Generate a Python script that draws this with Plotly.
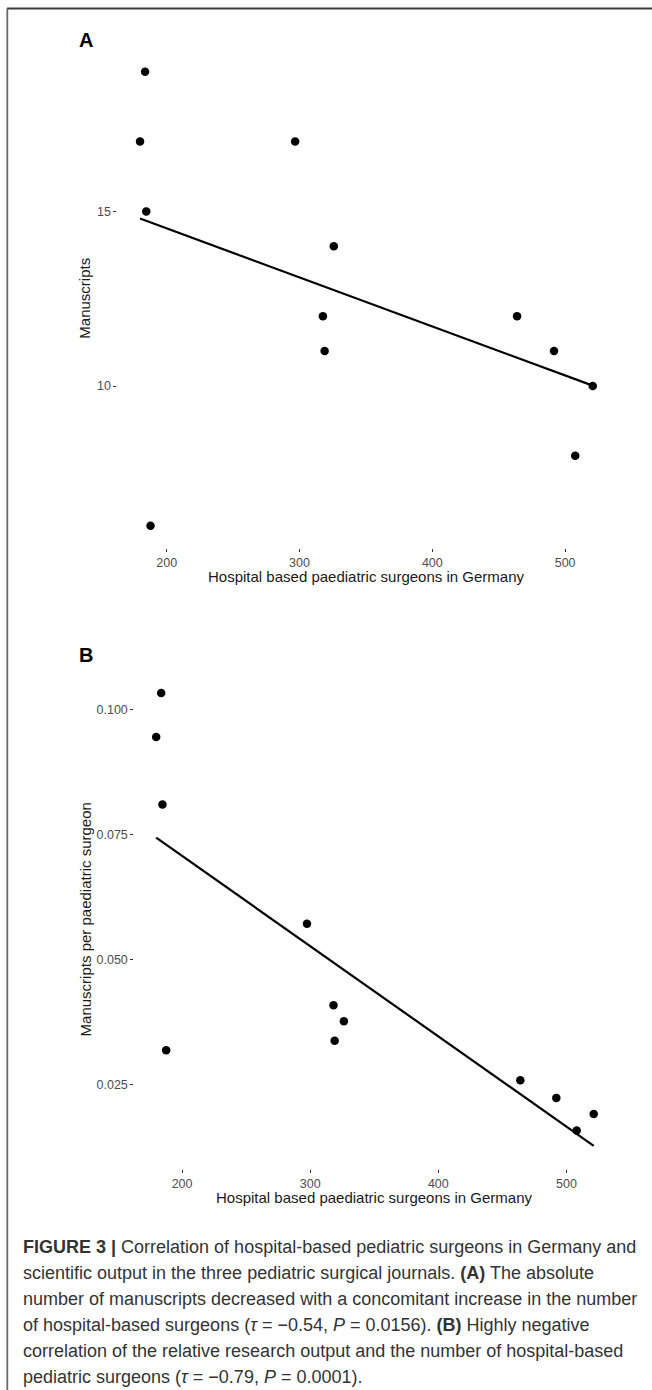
import numpy as np
import plotly.graph_objects as go

# ---------------- data ----------------
surgeons_a = [183.7, 179.9, 296.7, 184.6, 325.8, 317.6, 318.9, 463.8, 491.6, 520.8, 507.6, 187.8]
manuscripts_a = [19, 17, 17, 15, 14, 12, 11, 12, 11, 10, 8, 6]

surgeons_b = [183.7, 179.8, 184.7, 297.5, 318.2, 326.3, 319.1, 187.6, 464.0, 492.1, 521.3, 508.0]
per_surgeon_b = [0.1033, 0.0945, 0.0810, 0.0572, 0.0409, 0.0377, 0.0338, 0.0319,
                 0.0259, 0.0224, 0.0192, 0.0159]

x_ticks = [200, 300, 400, 500]
y_ticks_a = [10, 15]
y_ticks_b = [0.025, 0.050, 0.075, 0.100]

x_title = "Hospital based paediatric surgeons in Germany"
y_title_a = "Manuscripts"
y_title_b = "Manuscripts per paediatric surgeon"

caption_lines = [
    "<b>FIGURE 3 |</b> Correlation of hospital-based pediatric surgeons in Germany and",
    "scientific output in the three pediatric surgical journals. <b>(A)</b> The absolute",
    "number of manuscripts decreased with a concomitant increase in the number",
    "of hospital-based surgeons (<i>τ</i> = −0.54, <i>P</i> = 0.0156). <b>(B)</b> Highly negative",
    "correlation of the relative research output and the number of hospital-based",
    "pediatric surgeons (<i>τ</i> = −0.79, <i>P</i> = 0.0001).",
]

# ---------------- layout helpers ----------------
W, H = 652, 1390


def px(x):
    return x / W


def py(y):
    return 1 - y / H


def lm_line(x, y):
    x = np.asarray(x, float)
    y = np.asarray(y, float)
    k, b = np.polyfit(x, y, 1)
    xs = np.array([x.min(), x.max()])
    return xs, k * xs + b


def expand(vals, f=0.05):
    lo, hi = float(np.min(vals)), float(np.max(vals))
    d = (hi - lo) * f
    return [lo - d, hi + d]


fit_xa, fit_ya = lm_line(surgeons_a, manuscripts_a)
fit_xb, fit_yb = lm_line(surgeons_b, per_surgeon_b)

fig = go.Figure()

marker = dict(color="black", size=8.5)
fig.add_trace(go.Scatter(x=surgeons_a, y=manuscripts_a, mode="markers", marker=marker,
                         xaxis="x", yaxis="y", hoverinfo="x+y"))
fig.add_trace(go.Scatter(x=fit_xa, y=fit_ya, mode="lines", line=dict(color="black", width=2.2),
                         xaxis="x", yaxis="y"))
fig.add_trace(go.Scatter(x=surgeons_b, y=per_surgeon_b, mode="markers", marker=marker,
                         xaxis="x2", yaxis="y2", hoverinfo="x+y"))
fig.add_trace(go.Scatter(x=fit_xb, y=fit_yb, mode="lines", line=dict(color="black", width=2.2),
                         xaxis="x2", yaxis="y2"))

tick_font = dict(family="Arial, Liberation Sans, sans-serif", size=12.5, color="#4d4d4d")
axis_common = dict(showgrid=False, zeroline=False, showline=False, ticks="outside",
                   ticklen=3, tickwidth=1.2, tickcolor="#333333", tickfont=tick_font)

# Panel A plot area (pixels)
A_left, A_right, A_top, A_bottom = 117.4, 615.4, 49.0, 548.4
# Panel B plot area (pixels)
B_left, B_right, B_top, B_bottom = 134.3, 615.6, 670.3, 1168.5

fig.update_layout(
    width=W, height=H,
    margin=dict(l=0, r=0, t=0, b=0),
    paper_bgcolor="white", plot_bgcolor="white",
    showlegend=False,
    xaxis=dict(domain=[px(A_left), px(A_right)], range=expand(surgeons_a),
               tickvals=x_ticks, anchor="y", **axis_common),
    yaxis=dict(domain=[py(A_bottom), py(A_top)], range=expand(manuscripts_a),
               tickvals=y_ticks_a, anchor="x", **axis_common),
    xaxis2=dict(domain=[px(B_left), px(B_right)], range=expand(surgeons_b),
                tickvals=x_ticks, anchor="y2", **axis_common),
    yaxis2=dict(domain=[py(B_bottom), py(B_top)],
                range=expand(list(per_surgeon_b) + list(fit_yb)),
                tickvals=y_ticks_b, tickformat=".3f", anchor="x2", **axis_common),
)

title_font = dict(family="Arial, Liberation Sans, sans-serif", size=15, color="#1a1a1a")
label_font = dict(family="Arial, Liberation Sans, sans-serif", size=20, color="black")

ann = []
# panel letters
ann.append(dict(text="<b>A</b>", x=px(85.5), y=py(40), font=label_font))
ann.append(dict(text="<b>B</b>", x=px(85.5), y=py(655), font=label_font))
# axis titles
ann.append(dict(text=x_title, x=px((A_left + A_right) / 2), y=py(576), font=title_font))
ann.append(dict(text=x_title, x=px((B_left + B_right) / 2), y=py(1197), font=title_font))
ann.append(dict(text=y_title_a, x=px(85), y=py((A_top + A_bottom) / 2), font=title_font,
                textangle=-90))
ann.append(dict(text=y_title_b, x=px(85), y=py((B_top + B_bottom) / 2), font=title_font,
                textangle=-90))

# caption
cap_font = dict(family="Arial, Liberation Sans, sans-serif", size=18, color="#333333")
cap_centers = [1246.5, 1272.5, 1298.5, 1324.5, 1350.5, 1376.5]
for line, yc in zip(caption_lines, cap_centers):
    ann.append(dict(text=line, x=px(21), y=py(yc), xanchor="left", font=cap_font))

for a in ann:
    a.setdefault("xanchor", "center")
    a.update(xref="paper", yref="paper", yanchor="middle", showarrow=False)
fig.update_layout(annotations=ann)

# frame lines (top and left)
fig.update_layout(shapes=[
    dict(type="line", xref="paper", yref="paper", x0=px(7), x1=1, y0=py(8.5), y1=py(8.5),
         line=dict(color="#3a3a3a", width=2)),
    dict(type="line", xref="paper", yref="paper", x0=px(7.3), x1=px(7.3), y0=py(8.5), y1=0,
         line=dict(color="#6a6a6a", width=1.8)),
])

fig.write_html("out.html")
